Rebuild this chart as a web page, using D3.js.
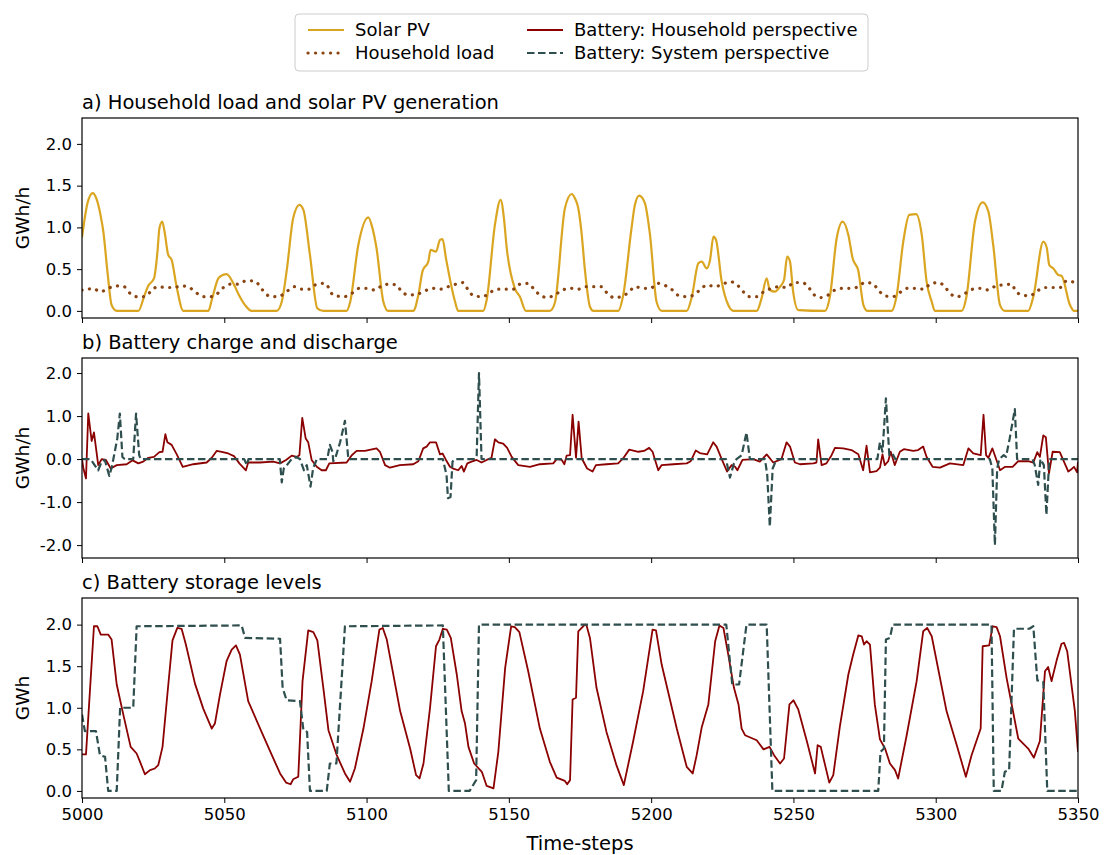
<!DOCTYPE html>
<html>
<head>
<meta charset="utf-8">
<script src="https://d3js.org/d3.v7.min.js"></script>
<style>
  body { margin: 0; background: #fff; }
  text { font-family: "DejaVu Sans", sans-serif; }
</style>
</head>
<body>
<svg id="canvas"></svg>
<script>
// ########## Data ##########
var xTicks = [5000, 5050, 5100, 5150, 5200, 5250, 5300, 5350];
var yTicksLevel = [0.0, 0.5, 1.0, 1.5, 2.0];
var yTicksFlow = [-2.0, -1.0, 0.0, 1.0, 2.0];

var solarPV = [[5000,0.88],[5002,1.3],[5003.8,1.41],[5005,1.35],[5006.5,1.15],[5007.5,0.95],[5009,0.45],[5010.4,0.07],[5012.2,0],[5019.8,0],[5022,0.19],[5023.3,0.30],[5025.3,0.39],[5026.5,0.7],[5027.2,0.99],[5028.2,1.07],[5029,0.95],[5030.3,0.67],[5031.5,0.61],[5033.3,0.28],[5035.6,0],[5044.4,0],[5045.6,0.13],[5047.9,0.39],[5049.5,0.43],[5050.8,0.44],[5053.2,0.33],[5055,0.2],[5057.3,0.07],[5059.6,0],[5068.4,0],[5070.2,0.11],[5072,0.5],[5074.2,1.11],[5076.4,1.27],[5077.8,1.21],[5080.1,0.67],[5082.7,0.03],[5084.8,0],
  [5093,0],[5094.2,0.1],[5097.1,0.79],[5100.6,1.12],[5102,1.0],[5103.5,0.75],[5105.9,0.11],[5107.6,0],[5116.4,0],[5118.2,0.19],[5119.7,0.48],[5121.7,0.59],[5122.5,0.73],[5124.4,0.71],[5125.8,0.85],[5126.7,0.86],[5127.9,0.63],[5131.1,0.11],[5132.2,0],[5141,0],[5142.2,0.13],[5145.1,1.03],[5147.1,1.33],[5148.3,1.1],[5149.2,0.77],[5152.1,0.27],[5153.9,0.17],[5156,0],[5164.4,0],[5166.2,0.1],[5169.7,1.23],[5172.1,1.40],[5173.2,1.35],[5174.4,1.23],[5175.5,0.95],[5176.7,0.5],[5178.5,0.05],[5179.7,0],
  [5188.4,0],[5190.2,0.19],[5193.1,0.99],[5194.3,1.27],[5195.8,1.38],[5197.8,1.29],[5199.6,0.91],[5201.9,0.11],[5203.7,0],[5212.5,0],[5214.3,0.17],[5216.6,0.57],[5217.8,0.59],[5219.5,0.51],[5220.7,0.61],[5221.9,0.89],[5222.8,0.85],[5224.8,0.35],[5227.1,0.07],[5228.9,0],[5237.1,0],[5238.8,0.15],[5240.6,0.39],[5241.7,0.25],[5243.5,0.23],[5245.3,0.29],[5246.7,0.37],[5247.8,0.65],[5248.8,0.59],[5249.9,0.23],[5251.7,0.01],[5261.1,0],[5262.8,0.17],
  [5265.2,0.87],[5267.3,1.07],[5269.3,0.91],[5270.8,0.63],[5272.8,0.48],[5274.6,0.07],[5276,0],[5284.5,0],[5286.3,0.19],[5288.6,0.83],[5290.7,1.15],[5293.1,1.16],[5295.1,0.91],[5296.8,0.35],[5298.6,0.11],[5299.7,0],[5309.1,0],[5310.8,0.17],[5313.8,1.07],[5316.5,1.30],[5318.5,1.19],[5320.2,0.79],[5322.6,0.07],[5324.3,0],[5332.5,0],[5334.3,0.17],[5337.8,0.83],[5339,0.76],[5339.9,0.55],[5341.3,0.51],[5343.1,0.43],[5344.2,0.42],[5347.2,0.07],[5348.6,0],[5350,0]];

var householdLoad = [[5000,0.25],[5001,0.25],[5003.7,0.27],[5006.6,0.23],[5009.2,0.27],[5011.9,0.30],[5014.8,0.29],[5016.9,0.21],[5019.4,0.17],[5022.1,0.17],[5024.1,0.23],[5026.5,0.29],[5029.5,0.28],[5032.3,0.28],[5035,0.30],[5037.7,0.28],[5040,0.22],[5042.6,0.17],[5045.2,0.17],[5047.3,0.2],[5049.7,0.28],[5052.2,0.32],[5054.9,0.32],[5057.6,0.36],[5060.2,0.36],[5062.5,0.30],[5064.3,0.21],[5067,0.17],[5069.6,0.18],[5072.2,0.24],[5074.6,0.29],[5077.2,0.26],[5079.9,0.26],[5082.5,0.32],[5085.4,0.33],[5088.3,0.19],[5092.1,0.17],[5094.8,0.21],[5097.4,0.27],[5100,0.27],[5103,0.25],[5105.3,0.30],[5108,0.32],[5110.6,0.31],[5112.3,0.23],[5115,0.19],[5117.8,0.2],[5120.5,0.24],[5123.2,0.27],[5126,0.26],[5128.7,0.29],[5131.4,0.32],[5134,0.34],[5135.7,0.25],[5137.7,0.18],[5140.8,0.17],[5143.4,0.22],[5145.7,0.26],[5148.6,0.26],[5151.6,0.26],[5153.9,0.32],[5156.9,0.33],[5158.8,0.26],[5160.9,0.19],[5163.5,0.16],[5166.5,0.20],[5168.9,0.25],[5171.7,0.27],[5174.4,0.26],[5176.7,0.29],[5179.9,0.29],[5182.6,0.29],[5184.6,0.21],[5186.9,0.16],[5189.6,0.17],[5192.3,0.23],[5194.3,0.29],[5197,0.27],[5199.8,0.27],[5202.1,0.33],[5205.2,0.30],[5207.5,0.25],[5209.9,0.18],[5212.7,0.17],[5215.4,0.20],[5217.4,0.26],[5219.7,0.31],[5222.4,0.29],[5225.1,0.32],[5227.7,0.35],[5230,0.32],[5232.1,0.24],[5234.5,0.17],[5237.1,0.17],[5239.6,0.23],[5242.3,0.27],[5245,0.29],[5247.6,0.28],[5250.2,0.34],[5252.9,0.34],[5255.2,0.29],[5257,0.2],[5259.6,0.16],[5262.2,0.19],[5264.6,0.25],[5267.5,0.27],[5270.5,0.27],[5272.8,0.29],[5275.1,0.34],[5277.8,0.33],[5279.8,0.25],[5282.2,0.18],[5284.9,0.17],[5287.4,0.22],[5290,0.27],[5293.1,0.27],[5295.9,0.26],[5298,0.32],[5300.9,0.34],[5303.2,0.29],[5305,0.21],[5307.6,0.17],[5310.3,0.21],[5313,0.26],[5315.6,0.27],[5318.5,0.25],[5321.2,0.30],[5323.7,0.31],[5326.7,0.32],[5328.2,0.23],[5330.6,0.19],[5333.1,0.18],[5335.7,0.24],[5338.4,0.28],[5341.1,0.28],[5343.7,0.28],[5346,0.36],[5349,0.34],[5350,0.33]];

var batteryHousehold = [[5000,0],[5000.5,-0.22],[5001.4,-0.45],[5002.2,1.06],[5003.4,0.42],[5004.2,0.62],[5005.7,-0.14],[5006.9,0],[5008.4,-0.02],[5010.1,-0.22],[5012.2,-0.14],[5015.7,-0.12],[5017.8,-0.03],[5019.8,-0.1],[5021.5,-0.06],[5023.3,0.03],[5025.3,0.05],[5027.2,0.16],[5028.3,0.17],[5029.3,0.58],[5030,0.39],[5031.5,0.33],[5033.3,0.11],[5035.4,-0.18],[5039.1,-0.12],[5043.8,-0.08],[5045.6,0.03],[5047.3,0.19],[5049.1,0.17],[5051.4,0.13],[5053.4,0.07],[5055.3,-0.1],[5057.6,-0.26],[5058.4,-0.08],[5062.5,-0.08],[5067.2,-0.06],[5069.6,-0.1],[5071.7,-0.02],[5073.7,0.08],[5075.4,0.05],[5076.4,0.09],[5077.4,0.96],[5078.6,0.48],[5079.5,0.39],[5080.7,-0.02],[5082.5,-0.18],[5084.2,-0.26],[5085.7,-0.26],[5086.9,-0.1],[5093,-0.08],[5094.8,0.09],[5096.5,0.19],[5099.4,0.19],[5103.5,0.25],[5104.7,0.17],[5106.5,-0.14],[5108.2,-0.2],[5111.7,-0.14],[5116.4,-0.12],[5118.2,-0.05],[5119.9,0.25],[5121.1,0.29],[5122.3,0.39],[5124.4,0.39],[5125.8,0.11],[5126.7,0.13],[5127.9,-0.02],[5129.3,-0.18],[5130.7,-0.23],[5132.2,-0.26],[5133.4,-0.16],[5134.2,-0.29],[5135.4,-0.1],[5136.9,-0.06],[5138.7,-0.02],[5140.4,-0.08],[5142.2,-0.02],[5143.9,0.03],[5145.1,0.46],[5146.3,0.39],[5148,0.36],[5149.4,0.26],[5151,0.05],[5153.3,-0.14],[5157.4,-0.18],[5160.9,-0.12],[5165.6,-0.1],[5166.8,0],[5168.6,-0.02],[5169.5,-0.12],[5170.3,0.08],[5171.5,0.09],[5172.4,1.03],[5173.6,0.03],[5174.5,0.87],[5175.6,0.02],[5177.5,-0.22],[5179.4,-0.29],[5180.6,-0.14],[5184.3,-0.12],[5188.4,-0.1],[5190.2,0.02],[5192.3,0.22],[5195.5,0.17],[5197.5,0.19],[5199.3,0.26],[5200.5,0.17],[5202.5,-0.26],[5203.7,-0.14],[5207.8,-0.12],[5212.5,-0.1],[5213.9,-0.05],[5215.7,0.2],[5217.1,0.14],[5219.7,0.11],[5221.8,0.39],[5223,0.29],[5224.8,0],[5226.7,-0.29],[5228.3,-0.14],[5229.5,-0.18],[5230.3,-0.26],[5232.1,-0.02],[5235.9,0],[5238.2,-0.06],[5240.6,0.11],[5242.9,-0.08],[5245.8,0],[5247.6,0.39],[5248.8,0.29],[5250.5,-0.08],[5252.3,-0.12],[5257,-0.1],[5258.1,-0.08],[5258.7,0.46],[5259.9,-0.14],[5261.6,-0.1],[5263.4,0.09],[5264.6,0.26],[5267.5,0.25],[5270.4,0.21],[5272.8,0.11],[5274.5,-0.26],[5275.7,0.31],[5276.9,-0.31],[5279.2,-0.28],[5280.4,-0.2],[5281.3,0.11],[5282.1,-0.14],[5283.3,-0.05],[5284.2,0.17],[5285.6,-0.14],[5287.4,0.17],[5288.8,0.23],[5292.1,0.19],[5293.8,0.21],[5295.6,0.29],[5296.8,0.05],[5298.9,-0.18],[5301.5,-0.2],[5305,-0.1],[5309.7,-0.14],[5311.5,0.25],[5313.2,0.13],[5315.8,0.09],[5316.8,1.03],[5317.7,0.09],[5318.5,0.03],[5319.9,0.25],[5321.5,-0.05],[5322.6,-0.26],[5324.4,-0.18],[5327,-0.18],[5329,-0.05],[5332.5,-0.05],[5334.3,-0.08],[5335.7,0.16],[5336.6,0.05],[5337.8,0.55],[5338.7,0.51],[5339.8,-0.33],[5341.1,0.17],[5343.6,0.16],[5346.6,-0.29],[5347.8,-0.23],[5348.6,-0.18],[5349.7,-0.31],[5350,-0.06]];

var batterySystem = [[5000,0],[5003,0],[5005.7,-0.26],[5006.9,-0.06],[5008,-0.02],[5009.6,-0.39],[5010.5,-0.18],[5012.4,0.48],[5013.3,1.06],[5014.2,0.05],[5015,0],[5018,0],[5019,1.06],[5020.1,0.09],[5020.6,0],[5057,0],[5057.9,-0.14],[5058.5,0],[5069.5,0],[5070.2,-0.54],[5070.9,-0.22],[5072,-0.14],[5073.7,0],[5075.2,0.05],[5076.6,0],[5078,-0.26],[5079,-0.14],[5080.3,-0.64],[5081.2,-0.22],[5082.5,0],[5086.2,0],[5087.1,0.33],[5088,0.17],[5088.3,-0.05],[5089,0.02],[5090.7,0.39],[5092.4,0.89],[5093.6,0],[5126.8,0],[5128.1,-0.37],[5128.6,-0.91],[5129.5,-0.88],[5130.2,-0.06],[5131,0],[5138.1,0],[5138.7,0.09],[5139.5,2.0],[5140.4,0],[5226.3,0],[5227.7,-0.43],[5229.1,-0.1],[5230,0],[5231.8,0.09],[5233.5,0.62],[5234.7,0],[5240,0],[5240.8,-0.37],[5241.7,-1.57],[5242.7,-0.22],[5244.1,0],[5279.5,0],[5280.4,0.39],[5281.3,0.17],[5282.5,1.41],[5283.7,0.09],[5284.8,0.13],[5285.8,0],[5319,0],[5319.9,-0.22],[5320.8,-2.0],[5321.6,-0.22],[5322.3,0],[5323.9,0.09],[5324.7,0.05],[5326,0.48],[5327.8,1.16],[5328.6,0],[5334,0],[5334.8,-0.14],[5336,-0.6],[5336.8,0],[5338,-0.14],[5338.9,-1.3],[5339.9,0],[5350,0]];

var storageHousehold = [[5000,0.44],[5001.4,0.44],[5004.2,1.98],[5005.4,1.98],[5006.6,1.88],[5009.2,1.88],[5010.4,1.82],[5012.2,1.28],[5014.5,0.92],[5017.1,0.53],[5019.2,0.45],[5020.4,0.35],[5022.1,0.2],[5023.9,0.25],[5025.6,0.27],[5026.8,0.31],[5028.3,0.53],[5030,1.16],[5031.8,1.81],[5033.5,1.96],[5035,1.95],[5036.5,1.76],[5039.7,1.29],[5042.6,0.99],[5045.6,0.75],[5046.7,0.81],[5048.5,1.16],[5050.8,1.56],[5052.6,1.70],[5054.1,1.75],[5055.5,1.64],[5058.4,1.08],[5063.1,0.71],[5066.6,0.44],[5069.6,0.21],[5071.7,0.10],[5073.3,0.08],[5074.2,0.14],[5076,0.17],[5077.5,1.32],[5079.5,1.93],[5081.3,1.91],[5082.7,1.81],[5084.8,1.24],[5086.6,0.73],[5089.4,0.44],[5092.4,0.21],[5094.2,0.11],[5095.9,0.27],[5098.9,0.75],[5101.8,1.32],[5104.5,1.94],[5105.7,1.96],[5107.1,1.82],[5111.8,0.96],[5115.3,0.51],[5117.4,0.19],[5118.6,0.15],[5120,0.33],[5122.3,1.0],[5124.4,1.74],[5125.6,1.82],[5126.8,1.95],[5128.2,1.94],[5129.6,1.84],[5131.7,1.40],[5133.4,0.96],[5134.6,0.81],[5135.8,0.53],[5137.8,0.33],[5140.5,0.23],[5142.2,0.06],[5144.6,0.03],[5146.3,0.47],[5148.7,1.48],[5150.8,1.98],[5152.1,1.97],[5153.7,1.91],[5156.8,1.44],[5160.9,0.75],[5164.4,0.35],[5166.8,0.16],[5169.7,0.12],[5170.5,0.08],[5171.5,0.13],[5172.4,1.10],[5173.6,1.12],[5174.4,1.92],[5176.7,2.0],[5177.3,1.99],[5178.5,1.84],[5180.8,1.24],[5184.3,0.71],[5187.8,0.31],[5190.4,0.07],[5193.7,0.6],[5197.2,1.20],[5200.5,1.94],[5201.7,1.93],[5203.7,1.52],[5209,0.75],[5212.5,0.29],[5214.6,0.21],[5216,0.43],[5217.8,0.77],[5220.1,1.04],[5222.5,1.80],[5224,1.99],[5225.4,1.96],[5227.1,1.64],[5229.1,1.24],[5230.7,1.04],[5231.8,0.75],[5233,0.67],[5237.1,0.61],[5239.5,0.50],[5241.6,0.53],[5243.2,0.43],[5245.3,0.33],[5246.7,0.39],[5248.6,1.04],[5250,1.09],[5251.7,0.98],[5254.7,0.6],[5257.6,0.21],[5258.5,0.55],[5259.6,0.53],[5262.6,0.10],[5264,0.19],[5266.3,0.77],[5269.3,1.40],[5271,1.64],[5272.8,1.87],[5274,1.86],[5274.8,1.76],[5275.7,1.80],[5276.9,1.76],[5278.6,1.04],[5280.4,0.62],[5282.2,0.51],[5283.9,0.33],[5285.7,0.25],[5286.8,0.15],[5289.8,0.67],[5293.3,1.32],[5295.6,1.92],[5297,1.96],[5298.6,1.86],[5303.8,0.96],[5307.4,0.55],[5310.6,0.17],[5312.6,0.43],[5315.8,0.75],[5316.5,1.74],[5318.8,1.75],[5320,1.98],[5321.4,1.97],[5322.6,1.86],[5324.9,1.36],[5329,0.63],[5332.5,0.51],[5334.5,0.40],[5336.6,0.60],[5338.4,1.44],[5339.5,1.49],[5340.7,1.32],[5342.5,1.57],[5344.2,1.77],[5345.1,1.78],[5346.2,1.68],[5348.9,0.96],[5350,0.47]];

var storageSystem = [[5000,0.92],[5001,0.72],[5004.9,0.72],[5006.3,0.43],[5008.1,0.41],[5009.2,0],[5012.2,0],[5013.4,1.0],[5018,1.0],[5019.2,1.98],[5056.1,1.99],[5057.3,1.84],[5069.6,1.83],[5070.5,1.24],[5071.9,1.09],[5076.6,1.08],[5077.8,0.73],[5079.1,0.71],[5080.1,0],[5086,0],[5087.1,0.33],[5089.4,0.33],[5092.4,1.98],[5126.8,1.99],[5128.9,0],[5136.2,0],[5138.5,0.13],[5139.5,2.0],[5226.4,2.0],[5228.5,1.28],[5230.9,1.28],[5233.5,2.0],[5240.6,2.0],[5242.6,0],[5279.8,0],[5280.6,0.47],[5281.8,0.51],[5282.5,1.82],[5283.9,1.84],[5284.9,2.0],[5319.6,2.0],[5320.4,0],[5323.1,0],[5324.3,0.23],[5325.8,0.25],[5327.5,1.95],[5332.9,1.95],[5334.3,1.98],[5335.7,1.33],[5337.8,1.31],[5339.2,0],[5350,0]];

// ########## SVG ##########
var w = 1107
var h = 855
var fsTick = 16.5
var fsLegend = 18
var fsTitle = 19.5
var fsLabel = 18.5

var svg = d3.select("#canvas")
    .attr("width", w)
    .attr("height", h);

svg.append("rect")
    .attr("width", w)
    .attr("height", h)
    .attr("fill", "#fff");

var left = 82, right = 1078;
var x = d3.scaleLinear().domain([5000, 5350]).range([left, right]);

var styles = {
    solar: { color: "#DAA520", width: 2.2, dash: null, cap: "butt", curve: d3.curveMonotoneX },
    load: { color: "#8B4513", width: 3.2, dash: "0.1,7.4", cap: "round", curve: d3.curveMonotoneX },
    house: { color: "#8B0000", width: 1.8, dash: null, cap: "butt", curve: d3.curveLinear },
    system: { color: "#2F4F4F", width: 2.2, dash: "7.5,3.5", cap: "butt", curve: d3.curveLinear }
};

var panels = [
    { top: 118, title: "a) Household load and solar PV generation", ylabel: "GWh/h",
      domain: [-0.085, 2.31], ticks: yTicksLevel,
      series: [[solarPV, "solar"], [householdLoad, "load"]] },
    { top: 358, title: "b) Battery charge and discharge", ylabel: "GWh/h",
      domain: [-2.3, 2.35], ticks: yTicksFlow,
      series: [[batteryHousehold, "house"], [batterySystem, "system"]] },
    { top: 598, title: "c) Battery storage levels", ylabel: "GWh",
      domain: [-0.085, 2.32], ticks: yTicksLevel,
      series: [[storageHousehold, "house"], [storageSystem, "system"]] }
];
var ph = 200;

// hyphen minus like the original figure
var fmt = function (d) { return d3.format(".1f")(d).replace("\u2212", "-"); };

// ########## Panels ##########
panels.forEach(function (p, i) {
    var y = d3.scaleLinear().domain(p.domain).range([p.top + ph, p.top]);
    var g = svg.append("g");

    var clipId = "clip" + i;
    svg.append("clipPath").attr("id", clipId)
        .append("rect")
        .attr("x", left).attr("y", p.top)
        .attr("width", right - left).attr("height", ph);

    var lines = g.append("g").attr("clip-path", "url(#" + clipId + ")");
    p.series.forEach(function (s) {
        var st = styles[s[1]];
        var line = d3.line()
            .x(function (d) { return x(d[0]); })
            .y(function (d) { return y(d[1]); })
            .curve(st.curve);
        lines.append("path")
            .datum(s[0])
            .attr("d", line)
            .attr("fill", "none")
            .attr("stroke", st.color)
            .attr("stroke-width", st.width)
            .attr("stroke-dasharray", st.dash)
            .attr("stroke-linejoin", "round")
            .attr("stroke-linecap", st.cap);
    });

    // axes
    var yAxis = d3.axisLeft(y)
        .tickValues(p.ticks)
        .tickFormat(fmt)
        .tickSize(5)
        .tickPadding(5);
    g.append("g")
        .attr("transform", "translate(" + left + ",0)")
        .call(yAxis)
        .call(function (a) { a.select(".domain").remove(); })
        .selectAll("text")
        .attr("font-size", fsTick)
        .attr("fill", "#000");

    var xAxis = d3.axisBottom(x)
        .tickValues(xTicks)
        .tickFormat(i == 2 ? d3.format("d") : "")
        .tickSize(5)
        .tickPadding(5);
    g.append("g")
        .attr("transform", "translate(0," + (p.top + ph) + ")")
        .call(xAxis)
        .call(function (a) { a.select(".domain").remove(); })
        .selectAll("text")
        .attr("font-size", fsTick)
        .attr("fill", "#000");

    g.selectAll(".tick line").attr("stroke", "#000").attr("stroke-width", 1);

    g.append("rect")
        .attr("x", left).attr("y", p.top)
        .attr("width", right - left).attr("height", ph)
        .attr("fill", "none")
        .attr("stroke", "#000")
        .attr("stroke-width", 1.2);

    g.append("text")
        .attr("x", left)
        .attr("y", p.top - 9)
        .attr("font-size", fsTitle)
        .text(p.title);

    g.append("text")
        .attr("transform", "translate(29," + (p.top + ph / 2) + ") rotate(-90)")
        .attr("text-anchor", "middle")
        .attr("font-size", fsLabel)
        .text(p.ylabel);
});

svg.append("text")
    .attr("x", (left + right) / 2)
    .attr("y", 850)
    .attr("text-anchor", "middle")
    .attr("font-size", fsTitle)
    .text("Time-steps");

// ########## Legend ##########
var legend = svg.append("g");
legend.append("rect")
    .attr("x", 295).attr("y", 14)
    .attr("width", 573).attr("height", 57)
    .attr("rx", 4)
    .attr("fill", "#fff")
    .attr("stroke", "#ccc");

var legendItems = [
    ["Solar PV", "solar", 308, 30],
    ["Household load", "load", 308, 53],
    ["Battery: Household perspective", "house", 527, 30],
    ["Battery: System perspective", "system", 527, 53]
];
legendItems.forEach(function (d) {
    var st = styles[d[1]];
    legend.append("line")
        .attr("x1", d[2]).attr("x2", d[2] + 36)
        .attr("y1", d[3]).attr("y2", d[3])
        .attr("stroke", st.color)
        .attr("stroke-width", st.width)
        .attr("stroke-dasharray", st.dash)
        .attr("stroke-linecap", st.cap);
    legend.append("text")
        .attr("x", d[2] + 47)
        .attr("y", d[3])
        .attr("dy", "0.35em")
        .attr("font-size", fsLegend)
        .text(d[0]);
});
</script>
</body>
</html>
